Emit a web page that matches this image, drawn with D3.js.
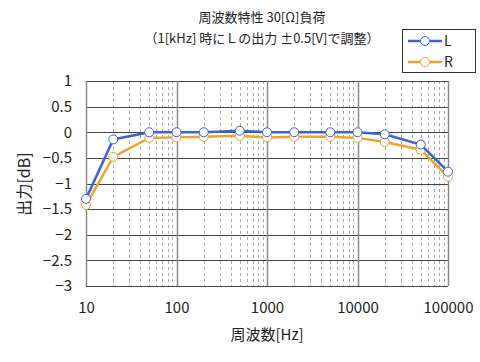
<!DOCTYPE html>
<html>
<head>
<meta charset="utf-8">
<script src="https://cdn.jsdelivr.net/npm/d3@7"></script>
<style>
	body { margin: 0; background: #fff; }
	text { font-family: "Noto Sans CJK JP", sans-serif; fill: #222; }
</style>
</head>
<body>
<div id="chart"></div>
<script>
// data
var freqs = [10, 20, 50, 100, 200, 500, 1000, 2000, 5000, 10000, 20000, 50000, 100000];
var seriesL = [-1.3, -0.14, 0, 0, 0, 0.03, 0, 0, 0, 0, -0.04, -0.24, -0.77];
var seriesR = [-1.42, -0.48, -0.11, -0.1, -0.09, -0.07, -0.1, -0.09, -0.09, -0.11, -0.19, -0.34, -0.87];
var yTicks = [1, 0.5, 0, -0.5, -1, -1.5, -2, -2.5, -3];
var xTicks = [10, 100, 1000, 10000, 100000];
var titleLines = ["周波数特性 30[Ω]負荷", "（1[kHz] 時にＬの出力 ±0.5[V]で調整）"];

var width = 480, height = 362;
var margin = {top: 81, right: 32, bottom: 76, left: 86};

var svg = d3.select("#chart").append("svg")
	.attr("width", width)
	.attr("height", height);

var xScale = d3.scaleLog()
	.domain([10, 100000])
	.range([margin.left, width - margin.right]);
var yScale = d3.scaleLinear()
	.domain([-3, 1])
	.range([height - margin.bottom, margin.top]);

// minor grid (dashed)
var minor = [];
for (var dec = 10; dec < 100000; dec *= 10) {
	for (var k = 2; k < 10; k++) minor.push(dec * k);
}
svg.append("g").selectAll("line")
	.data(minor)
	.enter().append("line")
	.attr("x1", function(d) { return Math.round(xScale(d)) + 0.5; })
	.attr("x2", function(d) { return Math.round(xScale(d)) + 0.5; })
	.attr("y1", yScale(1))
	.attr("y2", yScale(-3))
	.attr("stroke", "#aaa")
	.attr("stroke-width", 1)
	.attr("stroke-dasharray", "3,3");

// horizontal grid
svg.append("g").selectAll("line")
	.data(yTicks)
	.enter().append("line")
	.attr("x1", xScale(10))
	.attr("x2", xScale(100000))
	.attr("y1", function(d) { return Math.round(yScale(d)) + 0.5; })
	.attr("y2", function(d) { return Math.round(yScale(d)) + 0.5; })
	.attr("stroke", "#444")
	.attr("stroke-width", 1);

// decade grid
svg.append("g").selectAll("line")
	.data(xTicks)
	.enter().append("line")
	.attr("x1", function(d) { return Math.round(xScale(d)) + 0.5; })
	.attr("x2", function(d) { return Math.round(xScale(d)) + 0.5; })
	.attr("y1", yScale(1))
	.attr("y2", yScale(-3))
	.attr("stroke", "#8a8a8a")
	.attr("stroke-width", 1.5);

// axes labels (built with d3 axes, lines hidden)
var yAxis = svg.append("g")
	.attr("transform", "translate(" + margin.left + ",0)")
	.call(d3.axisLeft(yScale).tickValues(yTicks).tickSize(0).tickPadding(14)
		.tickFormat(function(d) { return String(d).replace("-", "−"); }));
yAxis.select(".domain").remove();
yAxis.selectAll("text").style("font-size", "15px").attr("fill", "#222");

var xAxis = svg.append("g")
	.attr("transform", "translate(0," + (height - margin.bottom) + ")")
	.call(d3.axisBottom(xScale).tickValues(xTicks).tickSize(0).tickPadding(16)
		.tickFormat(d3.format("d")));
xAxis.select(".domain").remove();
xAxis.selectAll("text").style("font-size", "15px").attr("fill", "#222");

// axis titles
svg.append("text")
	.attr("x", 267)
	.attr("y", 340)
	.attr("text-anchor", "middle")
	.style("font-size", "15px")
	.text("周波数[Hz]");
svg.append("text")
	.attr("transform", "translate(30,184) rotate(-90)")
	.attr("text-anchor", "middle")
	.style("font-size", "16px")
	.text("出力[dB]");

// title
svg.selectAll(".title")
	.data(titleLines)
	.enter().append("text")
	.attr("class", "title")
	.attr("x", 262)
	.attr("y", function(d, i) { return 22 + i * 21; })
	.attr("text-anchor", "middle")
	.style("font-size", "13px")
	.text(function(d) { return d; });

// series
var series = [
	{name: "L", values: seriesL, color: "#3c64d2"},
	{name: "R", values: seriesR, color: "#f0a528"}
];
var line = d3.line()
	.x(function(d, i) { return xScale(freqs[i]); })
	.y(function(d) { return yScale(d); });

// draw R first so L lies on top
series.slice().reverse().forEach(function(s) {
	svg.append("path")
		.datum(s.values)
		.attr("d", line)
		.attr("fill", "none")
		.attr("stroke", s.color)
		.attr("stroke-width", 2.5);
	svg.append("g").selectAll("circle")
		.data(s.values)
		.enter().append("circle")
		.attr("cx", function(d, i) { return xScale(freqs[i]); })
		.attr("cy", function(d) { return yScale(d); })
		.attr("r", 4.5)
		.attr("fill", "#fff")
		.attr("stroke", s.color)
		.attr("stroke-width", 1);
});

// legend
var lg = svg.append("g").attr("transform", "translate(402,29)");
lg.append("rect")
	.attr("x", 0.5).attr("y", 0.5)
	.attr("width", 73).attr("height", 43)
	.attr("fill", "#fff")
	.attr("stroke", "#333");
series.forEach(function(s, i) {
	var yy = 12 + i * 21;
	lg.append("line")
		.attr("x1", 6).attr("x2", 40)
		.attr("y1", yy).attr("y2", yy)
		.attr("stroke", s.color)
		.attr("stroke-width", 2.5);
	lg.append("circle")
		.attr("cx", 23).attr("cy", yy).attr("r", 4.5)
		.attr("fill", "#fff")
		.attr("stroke", s.color);
	lg.append("text")
		.attr("x", 42).attr("y", yy + 5)
		.style("font-size", "14px")
		.attr("fill", "#333")
		.text(s.name);
});
</script>
</body>
</html>
